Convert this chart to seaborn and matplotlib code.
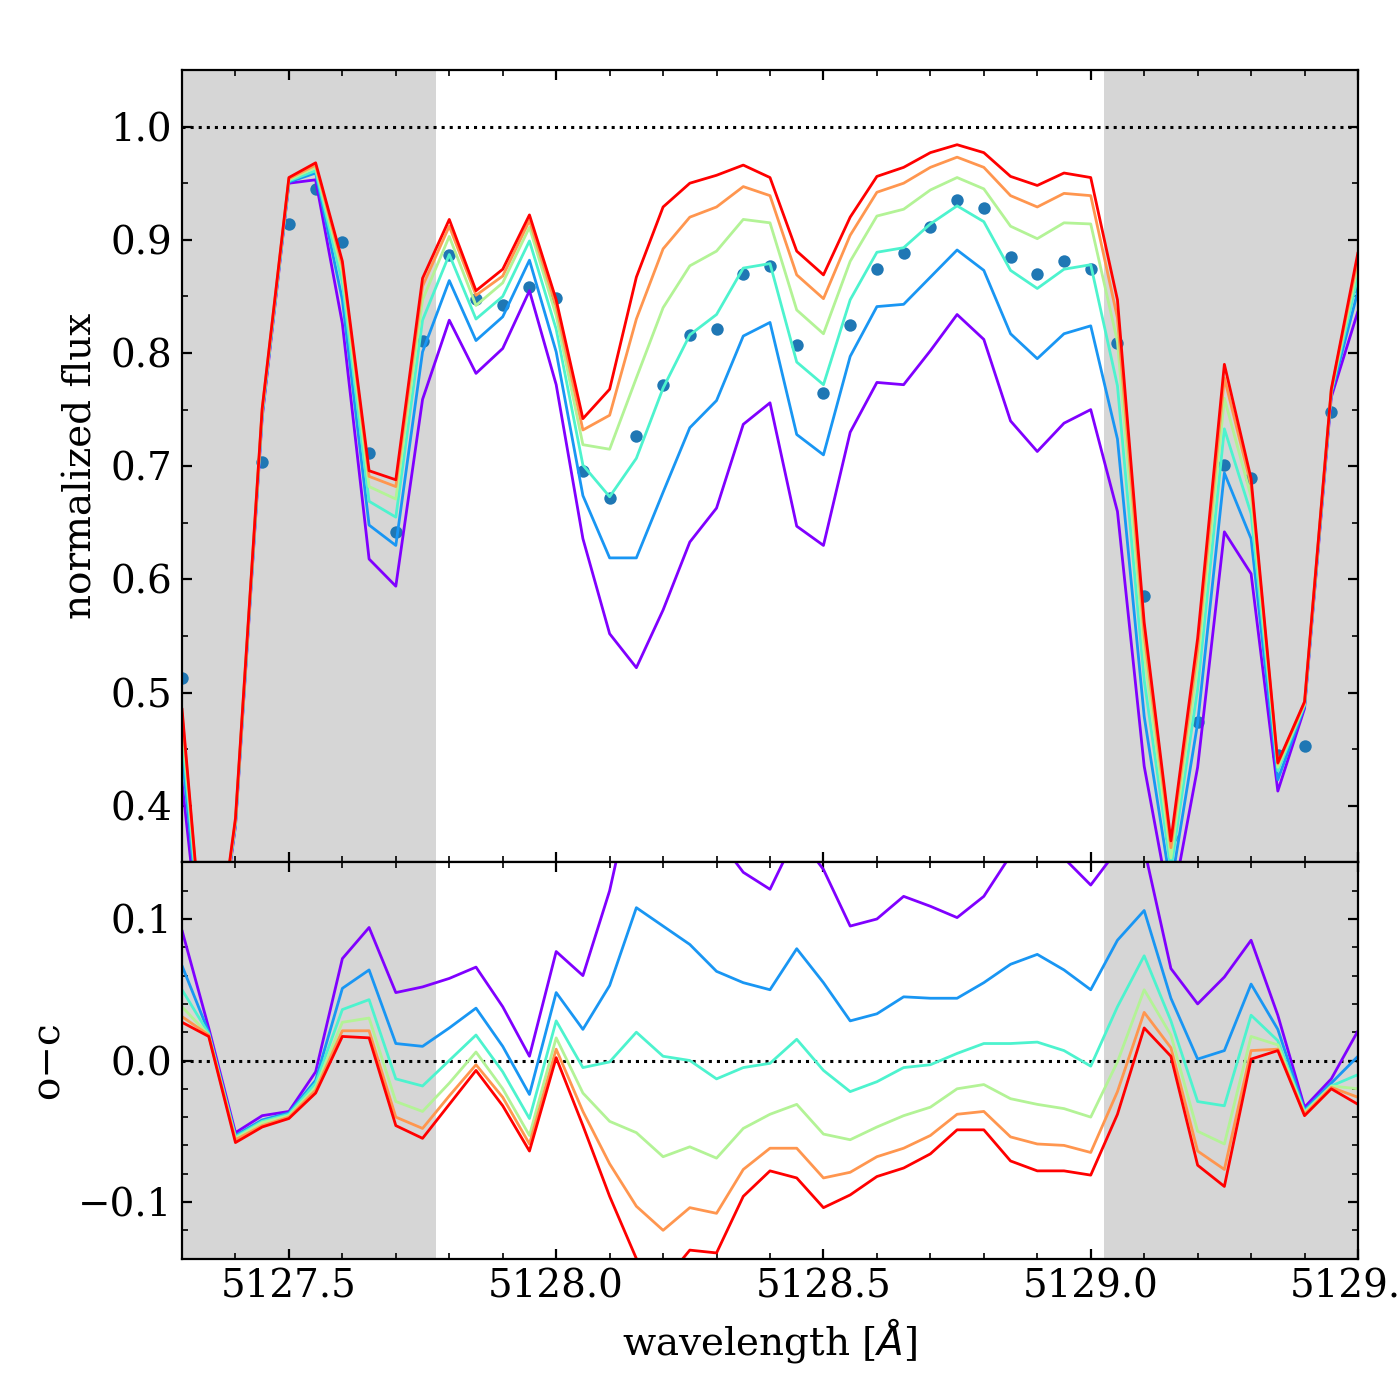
import numpy as np
import pandas as pd
import matplotlib
matplotlib.use("Agg")
import matplotlib.pyplot as plt
import seaborn as sns
from matplotlib.ticker import MultipleLocator, ScalarFormatter

# ---------------- data ----------------
wave = [5127.30, 5127.35, 5127.40, 5127.45, 5127.50, 5127.55, 5127.60, 5127.65,
        5127.70, 5127.75, 5127.80, 5127.85, 5127.90, 5127.95, 5128.00, 5128.05,
        5128.10, 5128.15, 5128.20, 5128.25, 5128.30, 5128.35, 5128.40, 5128.45,
        5128.50, 5128.55, 5128.60, 5128.65, 5128.70, 5128.75, 5128.80, 5128.85,
        5128.90, 5128.95, 5129.00, 5129.05, 5129.10, 5129.15, 5129.20, 5129.25,
        5129.30, 5129.35, 5129.40, 5129.45, 5129.50]

obs_flux = [0.513, 0.230, 0.331, 0.704, 0.914, 0.945, 0.898, 0.712, 0.642, 0.811,
            0.887, 0.848, 0.842, 0.858, 0.849, 0.696, 0.672, 0.727, 0.772, 0.816,
            0.821, 0.870, 0.877, 0.807, 0.765, 0.825, 0.874, 0.888, 0.911, 0.935,
            0.928, 0.885, 0.870, 0.881, 0.874, 0.809, 0.585, 0.372, 0.474, 0.701,
            0.690, 0.445, 0.453, 0.748, 0.858]

# residuals (o - c) of the six models
resid_m1 = [0.092, 0.023, -0.051, -0.039, -0.036, -0.008, 0.072, 0.094, 0.048, 0.052,
            0.058, 0.066, 0.038, 0.003, 0.077, 0.060, 0.120, 0.205, 0.199, 0.183,
            0.158, 0.133, 0.121, 0.160, 0.135, 0.095, 0.100, 0.116, 0.109, 0.101,
            0.116, 0.145, 0.157, 0.143, 0.124, 0.149, 0.150, 0.065, 0.040, 0.059,
            0.085, 0.032, -0.033, -0.013, 0.021]
resid_m2 = [0.067, 0.020, -0.053, -0.042, -0.037, -0.014, 0.051, 0.064, 0.012, 0.010,
            0.023, 0.037, 0.010, -0.024, 0.048, 0.022, 0.053, 0.108, 0.095, 0.082,
            0.063, 0.055, 0.050, 0.079, 0.055, 0.028, 0.033, 0.045, 0.044, 0.044,
            0.055, 0.068, 0.075, 0.064, 0.050, 0.085, 0.106, 0.044, 0.001, 0.007,
            0.054, 0.022, -0.035, -0.016, 0.003]
resid_m3 = [0.050, 0.019, -0.054, -0.043, -0.038, -0.016, 0.036, 0.043, -0.013, -0.018,
            0.000, 0.018, -0.008, -0.041, 0.028, -0.005, -0.001, 0.020, 0.003, 0.000,
            -0.013, -0.005, -0.002, 0.015, -0.007, -0.022, -0.015, -0.005, -0.003, 0.005,
            0.012, 0.012, 0.013, 0.007, -0.004, 0.038, 0.074, 0.028, -0.029, -0.032,
            0.032, 0.014, -0.036, -0.018, -0.010]
resid_m4 = [0.038, 0.018, -0.055, -0.044, -0.039, -0.019, 0.027, 0.030, -0.029, -0.036,
            -0.016, 0.006, -0.020, -0.053, 0.016, -0.023, -0.043, -0.051, -0.068, -0.061,
            -0.069, -0.048, -0.038, -0.031, -0.052, -0.056, -0.047, -0.039, -0.033, -0.020,
            -0.017, -0.027, -0.031, -0.034, -0.040, -0.001, 0.050, 0.018, -0.050, -0.059,
            0.017, 0.011, -0.037, -0.018, -0.020]
resid_m5 = [0.031, 0.018, -0.056, -0.046, -0.040, -0.021, 0.021, 0.021, -0.040, -0.048,
            -0.025, -0.003, -0.026, -0.059, 0.008, -0.036, -0.073, -0.103, -0.120, -0.104,
            -0.108, -0.077, -0.062, -0.062, -0.083, -0.079, -0.068, -0.062, -0.053, -0.038,
            -0.036, -0.054, -0.059, -0.060, -0.065, -0.022, 0.034, 0.009, -0.064, -0.077,
            0.007, 0.008, -0.038, -0.019, -0.026]
resid_m6 = [0.027, 0.017, -0.058, -0.047, -0.041, -0.023, 0.017, 0.016, -0.046, -0.055,
            -0.031, -0.007, -0.032, -0.064, 0.002, -0.046, -0.096, -0.140, -0.157, -0.134,
            -0.136, -0.096, -0.078, -0.083, -0.104, -0.095, -0.082, -0.076, -0.066, -0.049,
            -0.049, -0.071, -0.078, -0.078, -0.081, -0.038, 0.023, 0.003, -0.074, -0.089,
            0.001, 0.007, -0.039, -0.020, -0.031]

model_names = ["model 1", "model 2", "model 3", "model 4", "model 5", "model 6"]
mask_regions = [(5127.0, 5127.775), (5129.025, 5130.0)]

# ---------------- build tables ----------------
resids = [resid_m1, resid_m2, resid_m3, resid_m4, resid_m5, resid_m6]
rows = []
for name, res in zip(model_names, resids):
    for w, o, r in zip(wave, obs_flux, res):
        rows.append({"wave": w, "model": name, "flux": o - r, "resid": r})
df_mod = pd.DataFrame(rows)
df_obs = pd.DataFrame({"wave": wave, "flux": obs_flux})

colors = [matplotlib.colormaps["rainbow"](v) for v in np.linspace(0, 1, len(model_names))]
palette = dict(zip(model_names, colors))

# ---------------- style ----------------
sns.set_theme(style="ticks")
plt.rcParams.update({
    "font.family": ["DejaVu Serif"],
    "font.size": 14,
    "axes.labelsize": 14,
    "xtick.labelsize": 14,
    "ytick.labelsize": 14,
    "xtick.direction": "in",
    "ytick.direction": "in",
    "xtick.top": True,
    "ytick.right": True,
    "xtick.minor.visible": True,
    "ytick.minor.visible": True,
    "xtick.major.size": 3.5,
    "ytick.major.size": 3.5,
    "xtick.minor.size": 2.0,
    "ytick.minor.size": 2.0,
    "xtick.major.width": 0.8,
    "ytick.major.width": 0.8,
    "xtick.minor.width": 0.6,
    "ytick.minor.width": 0.6,
    "axes.linewidth": 0.8,
    "axes.edgecolor": "black",
    "xtick.color": "black",
    "ytick.color": "black",
    "axes.labelcolor": "black",
    "mathtext.fontset": "dejavusans",
})

fig = plt.figure(figsize=(7, 7), dpi=200)
gs = fig.add_gridspec(2, 1, height_ratios=[2, 1], left=0.13, right=0.97,
                      top=0.95, bottom=0.101, hspace=0)
ax1 = fig.add_subplot(gs[0])
ax2 = fig.add_subplot(gs[1], sharex=ax1)

for ax in (ax1, ax2):
    for lo, hi in mask_regions:
        ax.axvspan(lo, hi, color="0.84", lw=0, zorder=0)

# top panel
ax1.axhline(1.0, color="black", ls=":", lw=1.1, zorder=1)
sns.scatterplot(data=df_obs, x="wave", y="flux", color="#1f77b4", s=20,
                linewidth=0, ax=ax1, zorder=1.5, legend=False)
sns.lineplot(data=df_mod, x="wave", y="flux", hue="model", hue_order=model_names,
             palette=palette, estimator=None, sort=False, lw=1.0, legend=False,
             ax=ax1, zorder=2)

# bottom panel
ax2.axhline(0.0, color="black", ls=":", lw=1.1, zorder=1)
sns.lineplot(data=df_mod, x="wave", y="resid", hue="model", hue_order=model_names,
             palette=palette, estimator=None, sort=False, lw=1.0, legend=False,
             ax=ax2, zorder=2)

ax1.set_xlim(5127.3, 5129.5)
ax1.set_ylim(0.35, 1.05)
ax2.set_ylim(-0.14, 0.14)

ax1.yaxis.set_major_locator(MultipleLocator(0.1))
ax1.yaxis.set_minor_locator(MultipleLocator(0.05))
ax2.yaxis.set_major_locator(MultipleLocator(0.1))
ax2.yaxis.set_minor_locator(MultipleLocator(0.02))
ax2.xaxis.set_major_locator(MultipleLocator(0.5))
ax2.xaxis.set_minor_locator(MultipleLocator(0.1))
fmt = ScalarFormatter(useOffset=False)
ax2.xaxis.set_major_formatter(fmt)

ax1.tick_params(labelbottom=False)
ax1.set_xlabel("")
ax1.set_ylabel("normalized flux")
ax2.set_ylabel("o\u2212c")
ax2.set_xlabel(r"wavelength [$\AA$]")

fig.savefig("out.png", dpi=200)
